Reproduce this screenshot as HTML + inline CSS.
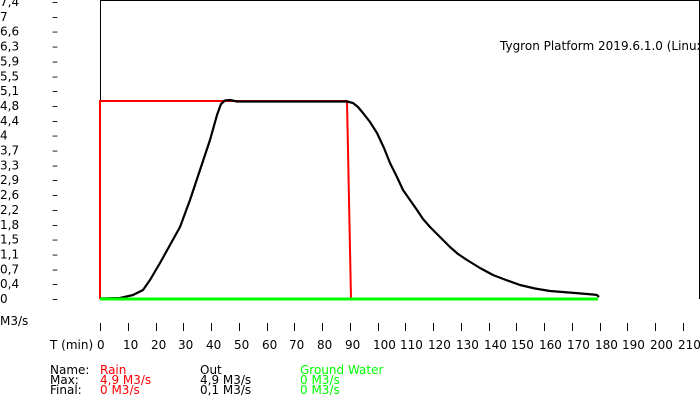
<!DOCTYPE html>
<html><head><meta charset="utf-8"><style>
html,body{margin:0;padding:0;background:#fff;}
svg{display:block;font-family:"DejaVu Sans","Liberation Sans",sans-serif;font-size:12px;}
</style></head><body>
<svg id="c" width="700" height="400" xmlns="http://www.w3.org/2000/svg">
<rect x="0" y="0" width="700" height="400" fill="#fff"/>
<g id="yl"></g>
<g id="xl"></g>
<line x1="100.5" y1="0" x2="100.5" y2="299" stroke="#000"/>
<line x1="100" y1="0.5" x2="700" y2="0.5" stroke="#000"/>
<line x1="699.5" y1="0" x2="699.5" y2="299" stroke="#000"/>
<text x="500" y="50">Tygron Platform 2019.6.1.0 (Linux)</text>
<polyline points="100,299 100,101 347,101 351,299" fill="none" stroke="#f00" stroke-width="2"/>
<polyline fill="none" stroke="#000" stroke-width="2.2" stroke-linejoin="round" points="100,298.5 120,298 133,295 143,290 150,280 160,263 170,245 180,227 190,200 200,170 210,140 217,115 221,104 225,100.5 230,100 237,101.5 347,101.5 353,103 358,107 363,113 370,122 377,133 384,148 390,163 397,177 403,190 410,200 417,210 423,219 430,227 440,237 450,247 458,254 467,260 480,268 493,275 506,280 520,285 535,288.5 550,291 575,293 593,294.5 597,295 599,297"/>
<line x1="100" y1="299" x2="598" y2="299" stroke="#0f0" stroke-width="3"/>
<text x="0" y="325">M3/s</text>
<text x="50" y="349">T (min)</text>
<text x="50" y="374">Name:</text>
<text x="50" y="384">Max:</text>
<text x="50" y="394">Final:</text>
<text x="100" y="374" fill="#f00">Rain</text>
<text x="100" y="384" fill="#f00">4,9 M3/s</text>
<text x="100" y="394" fill="#f00">0 M3/s</text>
<text x="200" y="374">Out</text>
<text x="200" y="384">4,9 M3/s</text>
<text x="200" y="394">0,1 M3/s</text>
<text x="300" y="374" fill="#0f0">Ground Water</text>
<text x="300" y="384" fill="#0f0">0 M3/s</text>
<text x="300" y="394" fill="#0f0">0 M3/s</text>
</svg>
<script>
var ns="http://www.w3.org/2000/svg";
function t(g,x,y,s,a){var e=document.createElementNS(ns,"text");e.setAttribute("x",x);e.setAttribute("y",y);if(a)e.setAttribute("text-anchor",a);e.textContent=s;document.getElementById(g).appendChild(e);}
var yv=["7,4","7","6,6","6,3","5,9","5,5","5,1","4,8","4,4","4","3,7","3,3","2,9","2,6","2,2","1,8","1,5","1,1","0,7","0,4","0"];
for(var i=0;i<yv.length;i++){var y=2+i*14.85;t("yl",0,y+4,yv[i]);t("yl",52,y+4,"–");}
for(var m=0;m<=210;m+=10){var x=Math.round(100+m*2.775);
var l=document.createElementNS(ns,"line");l.setAttribute("x1",x+0.5);l.setAttribute("x2",x+0.5);l.setAttribute("y1",323);l.setAttribute("y2",331);l.setAttribute("stroke","#000");document.getElementById("xl").appendChild(l);
t("xl",m==0?97:x-5,349,String(m));}
</script>
</body></html>
